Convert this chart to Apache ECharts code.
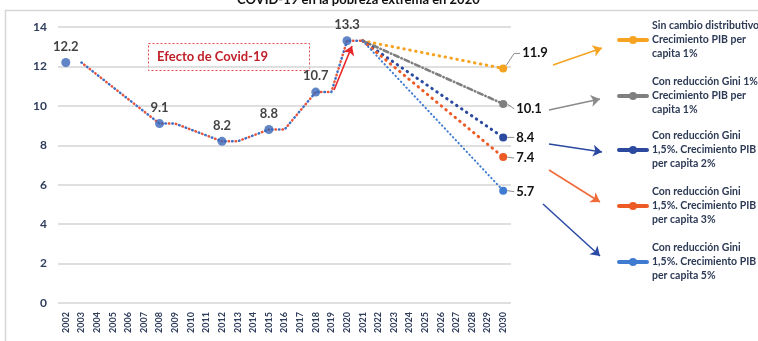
<!DOCTYPE html>
<html>
<head>
<meta charset="utf-8">
<script src="https://cdn.jsdelivr.net/npm/echarts@6/dist/echarts.min.js"></script>
<style>
  html, body { margin: 0; padding: 0; background: #fff; }
  #chart { width: 758px; height: 341px; }
</style>
</head>
<body>
<div id="chart"></div>
<script>
// Years on the horizontal axis
const years = ['2002','2003','2004','2005','2006','2007','2008','2009','2010','2011',
  '2012','2013','2014','2015','2016','2017','2018','2019','2020','2021',
  '2022','2023','2024','2025','2026','2027','2028','2029','2030'];

// Historical extreme poverty (%), each survey value held one year before the next
const histLine = [null, 12.2, null, null, null, null, 9.1, 9.1, null, null,
  8.2, 8.2, null, 8.8, 8.8, null, 10.7, 10.7, 13.3, 13.3,
  null, null, null, null, null, null, null, null, null];

// Labelled survey points
const histYears = ['2002', '2008', '2012', '2015', '2018', '2020'];
const histValues = [12.2, 9.1, 8.2, 8.8, 10.7, 13.3];

// 2030 scenarios, all starting from the 2021 level
const scenarioStartYear = '2021';
const scenarioStartValue = 13.3;
const scenarioEndYear = '2030';
const scenarioNames = [
  'Sin cambio distributivo\nCrecimiento PIB per\ncapita 1%',
  'Con reducción Gini 1%.\nCrecimiento PIB per\ncapita 1%',
  'Con reducción Gini\n1,5%. Crecimiento PIB\nper capita 2%',
  'Con reducción Gini\n1,5%. Crecimiento PIB\nper capita 3%',
  'Con reducción Gini\n1,5%. Crecimiento PIB\nper capita 5%'
];
const scenarioEnd = [11.9, 10.1, 8.4, 7.4, 5.7];

// Drawing styles for each scenario (label offsets, pointer arrows towards the legend)
const scenarioStyle = [
  { color: '#F5A321', width: 3,   dash: [0.5, 5.5],     label: [10, -16], arrow: '#F5A321', from: [553, 65],  to: [602, 48] },
  { color: '#7F7F7F', width: 2.6, dash: [5, 3, 0.5, 3], label: [4, 5],    arrow: '#8A8A8A', from: [549, 110], to: [600, 99] },
  { color: '#2B4A9F', width: 3,   dash: [0.5, 5.5],     label: [4, 0],    arrow: '#2B48A0', from: [549, 144], to: [602, 152] },
  { color: '#EC5A26', width: 3,   dash: [0.5, 5.5],     label: [4, 1],    arrow: '#F06A3A', from: [549, 170], to: [600, 202] },
  { color: '#3F7BD0', width: 2,   dash: [0.5, 3.5],     label: [4, 1],    arrow: '#2B4AA5', from: [543, 204], to: [600, 256] }
];
const legendIconY = [40, 96, 150, 206, 262];

const FONT = 'Lato, "Open Sans", sans-serif';
const AXIS_TEXT = '#2f3d5c';
const LABEL_TEXT = '#111';

const series = [];

// Historical dotted line drawn twice (blue and red dots interleaved)
[['#3D6FC4', 0], ['#E8553A', 3.5]].forEach(([color, offset], k) => {
  series.push({
    type: 'line',
    name: 'hist' + k,
    data: histLine,
    connectNulls: true,
    showSymbol: false,
    silent: true,
    z: 2,
    lineStyle: { color, width: 2.5, type: [0.5, 6.5], dashOffset: offset, cap: 'round' },
    markLine: k === 1 ? {
      silent: true,
      symbol: ['none', 'arrow'],
      symbolSize: 9,
      label: { show: false },
      lineStyle: { color: '#E8252A', width: 1.6, type: 'solid' },
      data: [[{ x: 334, y: 90 }, { x: 352, y: 46 }]]
    } : undefined
  });
});

// Scenario projections
scenarioNames.forEach((name, i) => {
  const st = scenarioStyle[i];
  series.push({
    type: 'line',
    name,
    connectNulls: true,
    symbol: 'circle',
    symbolSize: 8,
    z: 3,
    itemStyle: { color: st.color },
    lineStyle: { color: st.color, width: st.width, type: st.dash, cap: 'round' },
    data: years.map(y => {
      if (y === scenarioStartYear) return { value: scenarioStartValue, symbol: 'none' };
      if (y === scenarioEndYear) return {
        value: scenarioEnd[i],
        label: {
          show: true, position: 'right', distance: 5,
          fontFamily: FONT, fontWeight: 'bold', fontSize: 13, color: LABEL_TEXT
        }
      };
      return null;
    }),
    labelLayout: { dx: st.label[0], dy: st.label[1] },
    markLine: {
      silent: true,
      symbol: ['none', 'arrow'],
      symbolSize: 9,
      label: { show: false },
      lineStyle: { color: st.arrow, width: 1.5, type: 'solid' },
      data: [[{ x: st.from[0], y: st.from[1] }, { x: st.to[0], y: st.to[1] }]]
    }
  });
});

// Survey points with value labels
series.push({
  type: 'scatter',
  name: 'puntos',
  symbolSize: 9,
  z: 4,
  itemStyle: { color: '#3A67B8' },
  label: {
    show: true, position: 'top', distance: 5,
    fontFamily: FONT, fontWeight: 'bold', fontSize: 13, color: LABEL_TEXT,
    formatter: p => p.value[1].toFixed(1)
  },
  data: histYears.map((y, i) => [y, histValues[i]])
});

const baseGraphic = [
  {
    id: 'frame', type: 'rect', silent: true, z: -1,
    shape: { x: 5.5, y: 10.5, width: 800, height: 400 },
    style: { fill: 'none', stroke: '#d6d6d6', lineWidth: 1.5 }
  },
  {
    // Title line sitting right at the top edge of the page
    id: 'titleText', type: 'text', silent: true,
    x: 237, y: 6,
    style: {
      text: 'COVID-19 en la pobreza extrema en 2020', verticalAlign: 'bottom',
      font: 'bold 13px ' + FONT, fill: '#111'
    }
  },
  {
    id: 'covidBox', type: 'rect', silent: true,
    shape: { x: 148.5, y: 43.5, width: 161, height: 27 },
    style: { fill: 'none', stroke: '#E0454A', lineWidth: 1, lineDash: [2, 2] }
  },
  {
    id: 'covidText', type: 'text', silent: true,
    x: 157, y: 57,
    style: {
      text: 'Efecto de Covid-19', verticalAlign: 'middle',
      font: 'bold 13px ' + FONT, fill: '#C0202A'
    }
  }
];

const chart = echarts.init(document.getElementById('chart'));
chart.setOption({
  animation: false,
  backgroundColor: '#fff',
  grid: { left: 58, right: 247, top: 27, bottom: 38 },
  xAxis: {
    type: 'category',
    data: years,
    boundaryGap: true,
    axisLine: { show: false },
    axisTick: { show: false },
    axisLabel: {
      interval: 0, rotate: 90, margin: 9,
      fontFamily: FONT, fontWeight: 'bold', fontSize: 9, color: AXIS_TEXT
    }
  },
  yAxis: {
    type: 'value',
    min: 0, max: 14, interval: 2,
    axisLine: { show: false },
    axisTick: { show: false },
    splitLine: { lineStyle: { color: '#d4d4d4', width: 1.5 } },
    axisLabel: { margin: 11, fontFamily: FONT, fontWeight: 'bold', fontSize: 12, color: AXIS_TEXT }
  },
  legend: scenarioNames.map((name, i) => ({
    data: [name],
    left: 617,
    top: legendIconY[i] - 35,
    padding: 0,
    itemWidth: 28,
    itemHeight: 10,
    selectedMode: false,
    lineStyle: { type: 'solid', width: 4 },
    textStyle: {
      fontFamily: FONT, fontWeight: 'bold', fontSize: 10.5, color: '#2d3a55',
      lineHeight: 14, padding: [28, 0, 0, 0]
    }
  })),
  graphic: baseGraphic,
  series
});

// Short grey leader lines between each 2030 end point and its value label
const endIndex = years.indexOf(scenarioEndYear);
const leaders = scenarioEnd.map((v, i) => {
  const [px, py] = chart.convertToPixel({ gridIndex: 0 }, [endIndex, v]);
  const [dx, dy] = scenarioStyle[i].label;
  const points = dy < -5
    ? [[px + 3, py - 3], [px + dx + 1, py + dy + 1], [px + dx + 7, py + dy + 1]]
    : [[px + 4, py], [px + dx + 7, py + dy]];
  return {
    id: 'leader' + i, type: 'polyline', silent: true, z: 10,
    shape: { points },
    style: { fill: 'none', stroke: '#8c8c8c', lineWidth: 1 }
  };
});
chart.setOption({ graphic: baseGraphic.concat(leaders) });
</script>
</body>
</html>
